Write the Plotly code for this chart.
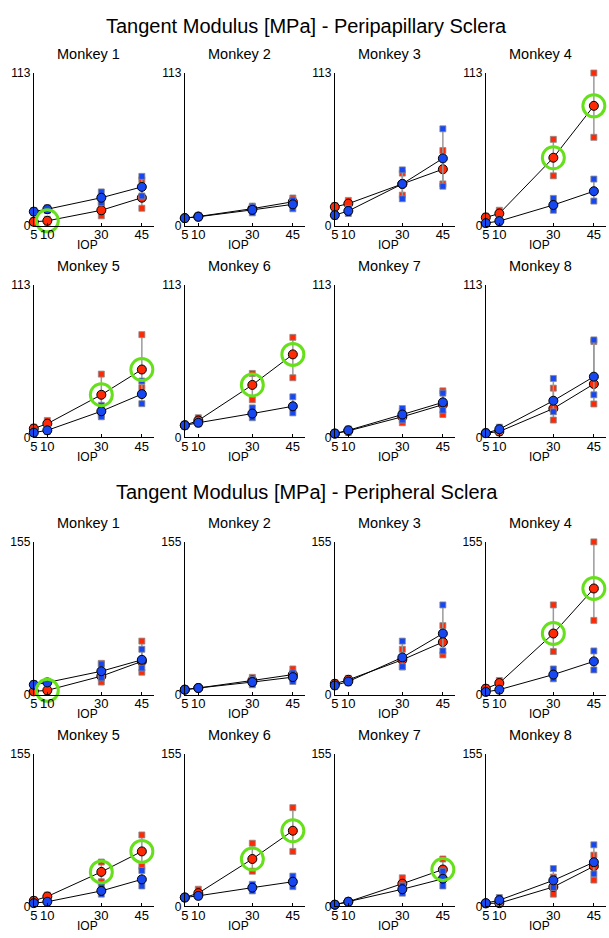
import plotly.graph_objects as go

IOP = [5, 10, 30, 45]
MONKEYS = ["Monkey 1", "Monkey 2", "Monkey 3", "Monkey 4",
           "Monkey 5", "Monkey 6", "Monkey 7", "Monkey 8"]
SECTION_TITLES = ["Tangent Modulus [MPa] - Peripapillary Sclera",
                  "Tangent Modulus [MPa] - Peripheral Sclera"]
YMAX = [113, 155]
X_LABEL = "IOP"

# ---------------- Peripapillary sclera ----------------
pp_red_mean = [
    [2.9, 3.6, 11.4, 20.7], [5.6, 6.8, 12.6, 17.7], [13.9, 16.3, 30.9, 41.8], [6.1, 9.0, 50.3, 88.7],
    [6.6, 10.2, 31.6, 50.3], [9.0, 12.6, 38.9, 61.5], [2.9, 4.9, 15.3, 24.3], [3.2, 4.4, 21.4, 39.6]]
pp_red_lo = [
    [2.0, 2.5, 7.3, 12.9], [5.0, 6.0, 10.8, 15.2], [13.0, 14.0, 22.6, 30.9], [5.2, 7.0, 36.9, 65.4],
    [5.6, 8.0, 17.0, 36.9], [8.2, 11.0, 27.9, 44.2], [2.2, 3.8, 10.9, 17.0], [2.4, 3.6, 12.9, 24.8]]
pp_red_hi = [
    [3.8, 4.8, 15.5, 34.0], [6.2, 7.6, 14.5, 20.5], [14.8, 18.7, 38.9, 55.6], [7.0, 11.4, 63.9, 113.0],
    [7.6, 12.6, 46.9, 76.1], [9.8, 14.6, 47.4, 74.1], [3.6, 6.0, 19.5, 34.5], [4.0, 5.2, 36.5, 71.0]]
pp_blue_mean = [
    [10.4, 12.2, 20.7, 28.7], [5.6, 6.6, 11.7, 15.8], [7.8, 10.9, 30.9, 49.8], [1.9, 3.4, 15.3, 25.5],
    [3.6, 5.3, 19.4, 32.1], [9.0, 10.9, 17.7, 23.1], [2.9, 5.3, 17.0, 26.0], [3.2, 6.1, 27.2, 45.0]]
pp_blue_lo = [
    [9.6, 11.2, 17.0, 22.0], [5.0, 5.8, 9.5, 12.5], [7.0, 9.0, 19.9, 29.2], [1.2, 2.5, 11.4, 18.2],
    [2.8, 4.4, 15.3, 25.0], [8.2, 10.0, 14.6, 18.2], [2.2, 4.3, 13.0, 20.2], [2.4, 4.8, 19.0, 31.6]]
pp_blue_hi = [
    [11.2, 13.2, 25.0, 36.5], [6.2, 7.4, 13.8, 19.0], [8.6, 12.8, 41.3, 71.7], [2.6, 4.3, 20.2, 34.5],
    [4.4, 6.2, 23.8, 41.8], [9.8, 11.8, 21.9, 30.1], [3.6, 6.3, 21.4, 32.8], [4.0, 7.6, 43.7, 72.2]]
# significant (monkey index, IOP index) on red series
pp_sig = [(0, 1), (3, 2), (3, 3), (4, 2), (4, 3), (5, 2), (5, 3)]

# ---------------- Peripheral sclera ----------------
pe_red_mean = [
    [3.3, 4.3, 18.7, 33.7], [5.0, 6.7, 14.3, 20.3], [11.0, 15.0, 35.3, 53.3], [6.0, 11.7, 62.0, 107.7],
    [5.7, 10.0, 35.0, 55.8], [9.0, 13.4, 48.1, 76.8], [1.7, 4.7, 23.0, 37.4], [3.0, 3.3, 19.7, 40.7]]
pe_red_lo = [
    [2.3, 3.0, 12.7, 22.7], [4.2, 5.8, 11.5, 15.5], [10.0, 13.5, 28.0, 40.3], [5.0, 9.0, 43.7, 75.3],
    [4.8, 8.5, 25.0, 40.7], [8.2, 11.0, 35.7, 55.8], [1.0, 3.8, 18.0, 30.0], [2.3, 2.5, 12.4, 26.7]]
pe_red_hi = [
    [4.3, 5.6, 31.7, 54.3], [5.8, 7.6, 17.5, 26.0], [12.0, 16.5, 46.0, 70.0], [7.0, 14.3, 91.0, 155.0],
    [6.6, 11.5, 45.0, 72.5], [9.8, 17.4, 64.1, 100.2], [2.4, 5.6, 29.0, 48.1], [3.7, 4.1, 29.7, 52.0]]
pe_blue_mean = [
    [10.0, 12.3, 23.7, 35.3], [5.0, 6.7, 12.7, 17.7], [9.3, 13.3, 37.7, 62.0], [2.7, 5.0, 20.3, 33.7],
    [3.3, 4.7, 15.7, 27.4], [9.0, 10.7, 19.0, 25.0], [1.7, 4.7, 17.4, 28.0], [3.3, 6.3, 26.4, 44.8]]
pe_blue_lo = [
    [9.0, 11.0, 17.0, 27.0], [4.2, 5.8, 10.0, 13.3], [8.3, 12.0, 28.3, 44.3], [2.0, 4.0, 16.0, 25.0],
    [2.6, 3.9, 12.4, 20.7], [8.2, 9.8, 15.7, 20.0], [1.0, 3.8, 13.4, 20.7], [2.6, 4.5, 19.0, 33.0]]
pe_blue_hi = [
    [11.0, 13.6, 31.0, 46.0], [5.8, 7.6, 15.5, 22.0], [10.3, 14.6, 54.3, 91.0], [3.4, 6.0, 26.0, 44.3],
    [4.0, 5.5, 20.7, 36.4], [9.8, 11.6, 22.4, 30.7], [2.4, 5.6, 21.0, 35.7], [4.0, 9.0, 38.4, 62.5]]
pe_sig = [(0, 1), (3, 2), (3, 3), (4, 2), (4, 3), (5, 2), (5, 3), (6, 3)]

sections = [
    dict(red=(pp_red_mean, pp_red_lo, pp_red_hi), blue=(pp_blue_mean, pp_blue_lo, pp_blue_hi), sig=pp_sig),
    dict(red=(pe_red_mean, pe_red_lo, pe_red_hi), blue=(pe_blue_mean, pe_blue_lo, pe_blue_hi), sig=pe_sig),
]

W, H = 609, 938
COL_X0 = [30, 182, 333, 485]
PANEL_W = 121
ROW_TOP = [67, 282, 543, 758]
PANEL_H = 155
FONT = "Liberation Sans, Arial, Helvetica, sans-serif"

RED = "#ff2a05"
BLUE = "#1747f0"
GRAY = "#9a9a9a"
GREEN = "#66e01a"

fig = go.Figure()
layout = dict(
    width=W, height=H, margin=dict(l=0, r=0, t=0, b=0),
    paper_bgcolor="white", plot_bgcolor="white", showlegend=False,
    font=dict(family=FONT, color="black", size=13),
)
annotations = []

for s, sec in enumerate(sections):
    for m in range(8):
        k = s * 8 + m
        row = s * 2 + m // 4
        col = m % 4
        xa = "x" if k == 0 else f"x{k+1}"
        ya = "y" if k == 0 else f"y{k+1}"
        x0 = COL_X0[col]
        top = ROW_TOP[row]
        layout["xaxis" if k == 0 else f"xaxis{k+1}"] = dict(
            domain=[x0 / W, (x0 + PANEL_W) / W], anchor=ya,
            range=[5, 49.5], showgrid=False, zeroline=False,
            showline=True, linecolor="black", linewidth=1,
            tickvals=IOP, ticktext=[str(v) for v in IOP],
            ticks="inside", ticklen=3, tickcolor="black",
            tickfont=dict(size=13, family=FONT), ticklabelstandoff=-3,
        )
        layout["yaxis" if k == 0 else f"yaxis{k+1}"] = dict(
            domain=[1 - (top + PANEL_H) / H, 1 - top / H], anchor=xa,
            range=[0, YMAX[s]], showgrid=False, zeroline=False,
            showline=True, linecolor="black", linewidth=1,
            tickvals=[0, YMAX[s]], ticktext=["0", str(YMAX[s])],
            ticks="inside", ticklen=3, tickcolor="black",
            tickfont=dict(size=12, family=FONT), ticklabelstandoff=0,
        )
        annotations.append(dict(
            text=MONKEYS[m], x=(x0 + 55) / W, y=1 - (top - 19) / H,
            xref="paper", yref="paper", showarrow=False,
            xanchor="center", yanchor="middle", font=dict(size=14.5, family=FONT)))
        annotations.append(dict(
            text=X_LABEL, x=(x0 + 54) / W, y=1 - (top + PANEL_H + 20) / H,
            xref="paper", yref="paper", showarrow=False,
            xanchor="center", yanchor="middle", font=dict(size=12, family=FONT)))

        for key, color in (("red", RED), ("blue", BLUE)):
            mean, lo, hi = sec[key]
            ex, ey = [], []
            for i, xv in enumerate(IOP):
                ex += [xv, xv, None]
                ey += [lo[m][i], hi[m][i], None]
            fig.add_trace(go.Scatter(x=ex, y=ey, xaxis=xa, yaxis=ya, mode="lines",
                                     line=dict(color=GRAY, width=1.5), cliponaxis=False,
                                     hoverinfo="skip"))
            fig.add_trace(go.Scatter(x=IOP + IOP, y=lo[m] + hi[m], xaxis=xa, yaxis=ya,
                                     mode="markers", cliponaxis=False,
                                     marker=dict(symbol="square", size=6, color=color,
                                                 line=dict(color="#8a8a8a", width=0.8))))
            fig.add_trace(go.Scatter(x=IOP, y=mean[m], xaxis=xa, yaxis=ya,
                                     mode="lines+markers", cliponaxis=False,
                                     line=dict(color="black", width=1),
                                     marker=dict(symbol="circle", size=9, color=color,
                                                 line=dict(color="black", width=1))))
        sig = [i for (mm, i) in sec["sig"] if mm == m]
        if sig:
            mean = sec["red"][0]
            fig.add_trace(go.Scatter(x=[IOP[i] for i in sig], y=[mean[m][i] for i in sig],
                                     xaxis=xa, yaxis=ya, mode="markers", cliponaxis=False,
                                     marker=dict(symbol="circle-open", size=22, color=GREEN,
                                                 line=dict(color=GREEN, width=3))))

annotations.append(dict(text=SECTION_TITLES[0], x=0.5, y=1 - 19 / H, xref="paper", yref="paper",
                        showarrow=False, xanchor="center", yanchor="middle",
                        font=dict(size=20, family=FONT)))
annotations.append(dict(text=SECTION_TITLES[1], x=0.5, y=1 - 492 / H, xref="paper", yref="paper",
                        showarrow=False, xanchor="center", yanchor="middle",
                        font=dict(size=20, family=FONT)))
layout["annotations"] = annotations
fig.update_layout(**layout)
fig.write_html("out.html", config={"displayModeBar": False},
               post_script="document.body.style.margin='0';document.body.style.overflow='hidden';")
